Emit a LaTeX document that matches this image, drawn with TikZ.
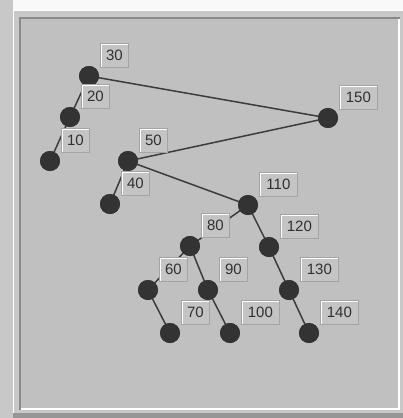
\documentclass[tikz,border=0pt]{standalone}
\usepackage{fontspec}
\setmainfont{Liberation Sans}
\definecolor{canvas}{HTML}{C8C8C8}
\definecolor{panel}{HTML}{C0C0C0}
\definecolor{tagfill}{HTML}{C4C4C4}
\definecolor{tagdark}{HTML}{A4A4A4}
\definecolor{tagtext}{HTML}{303030}
\definecolor{dotfill}{HTML}{333333}
\definecolor{edgecol}{HTML}{3C3C3C}
\definecolor{bevdark}{HTML}{8A8A8A}
\tikzset{
  dot/.style={circle, fill=dotfill, minimum size=20pt, inner sep=0pt},
  edge/.style={draw=edgecol, line width=1.5pt},
  tag/.style={anchor=north west, fill=tagfill, draw=tagdark, line width=0.8pt,
    inner sep=0pt, minimum height=24pt, minimum width=28pt,
    font=\fontsize{15}{15}\selectfont, text=tagtext,
    path picture={\draw[white, line width=4pt]
      (path picture bounding box.south west) |- (path picture bounding box.north east);}},
  wide/.style={minimum width=38pt}
}
\begin{document}
\begin{tikzpicture}[x=1pt, y=-1pt]
  % window frame and sunken panel
  \useasboundingbox (0,0) rectangle (403,418);
  \fill[canvas] (0,0) rectangle (403,418);
  \fill[white!95!gray] (13,0) rectangle (403,10);
  \draw[white, line width=1.5pt] (13.5,418) -- (13.5,10.5) -- (403,10.5);
  \fill[bevdark] (19,17) rectangle (400,410);
  \fill[white] (21,19) rectangle (400,410);
  \fill[panel] (21,19) rectangle (398,408);
  \fill[bevdark!80!canvas] (13,413) rectangle (403,418);

  % tree nodes
  \node[dot] (n30)  at (89,76)   {};
  \node[dot] (n20)  at (70,117)  {};
  \node[dot] (n10)  at (50,161)  {};
  \node[dot] (n150) at (328,118) {};
  \node[dot] (n50)  at (128,161) {};
  \node[dot] (n40)  at (110,204) {};
  \node[dot] (n110) at (248,205) {};
  \node[dot] (n80)  at (190,246) {};
  \node[dot] (n120) at (269,247) {};
  \node[dot] (n60)  at (148,290) {};
  \node[dot] (n90)  at (208,290) {};
  \node[dot] (n130) at (289,290) {};
  \node[dot] (n70)  at (170,333) {};
  \node[dot] (n100) at (230,333) {};
  \node[dot] (n140) at (309,333) {};

  % links between parents and children
  \path[edge] (n30.center) -- (n20.center);
  \path[edge] (n20.center) -- (n10.center);
  \path[edge] (n30.center) -- (n150.center);
  \path[edge] (n150.center) -- (n50.center);
  \path[edge] (n50.center) -- (n40.center);
  \path[edge] (n50.center) -- (n110.center);
  \path[edge] (n110.center) -- (n80.center);
  \path[edge] (n110.center) -- (n120.center);
  \path[edge] (n80.center) -- (n60.center);
  \path[edge] (n80.center) -- (n90.center);
  \path[edge] (n60.center) -- (n70.center);
  \path[edge] (n90.center) -- (n100.center);
  \path[edge] (n120.center) -- (n130.center);
  \path[edge] (n130.center) -- (n140.center);

  % redraw the dots over the links
  \foreach \n in {n30,n20,n10,n150,n50,n40,n110,n80,n120,n60,n90,n130,n70,n100,n140}
    \fill[dotfill] (\n.center) circle (10pt);

  % key labels
  \node[tag]      (l30)  at ([shift={(11,-33)}]n30.center)  {30};
  \node[tag]      (l20)  at ([shift={(11,-33)}]n20.center)  {20};
  \node[tag]      (l10)  at ([shift={(11,-33)}]n10.center)  {10};
  \node[tag,wide] (l150) at ([shift={(11,-33)}]n150.center) {150};
  \node[tag]      (l50)  at ([shift={(11,-33)}]n50.center)  {50};
  \node[tag]      (l40)  at ([shift={(11,-33)}]n40.center)  {40};
  \node[tag,wide] (l110) at ([shift={(11,-33)}]n110.center) {110};
  \node[tag]      (l80)  at ([shift={(11,-33)}]n80.center)  {80};
  \node[tag,wide] (l120) at ([shift={(11,-33)}]n120.center) {120};
  \node[tag]      (l60)  at ([shift={(11,-33)}]n60.center)  {60};
  \node[tag]      (l90)  at ([shift={(11,-33)}]n90.center)  {90};
  \node[tag,wide] (l130) at ([shift={(11,-33)}]n130.center) {130};
  \node[tag]      (l70)  at ([shift={(11,-33)}]n70.center)  {70};
  \node[tag,wide] (l100) at ([shift={(11,-33)}]n100.center) {100};
  \node[tag,wide] (l140) at ([shift={(11,-33)}]n140.center) {140};
\end{tikzpicture}
\end{document}
